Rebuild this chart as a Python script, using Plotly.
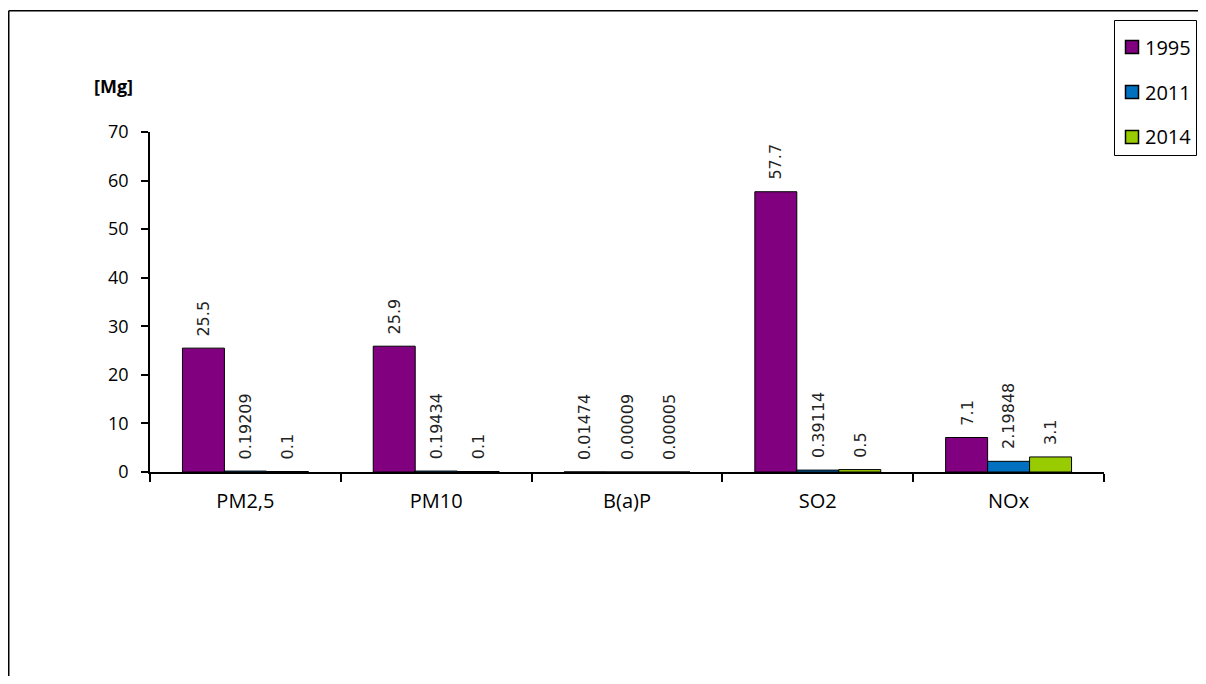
import plotly.graph_objects as go

categories = ["PM2,5", "PM10", "B(a)P", "SO2", "NOx"]
years = ["1995", "2011", "2014"]
values_1995 = [25.5, 25.9, 0.01474, 57.7, 7.1]
values_2011 = [0.19209, 0.19434, 0.00009, 0.39114, 2.19848]
values_2014 = [0.1, 0.1, 0.00005, 0.5, 3.1]
labels_1995 = ["25.5", "25.9", "0.01474", "57.7", "7.1"]
labels_2011 = ["0.19209", "0.19434", "0.00009", "0.39114", "2.19848"]
labels_2014 = ["0.1", "0.1", "0.00005", "0.5", "3.1"]
colors = ["#800080", "#0070C0", "#99CC00"]
y_ticks = [0, 10, 20, 30, 40, 50, 60, 70]

# page body has an 8px margin; work in reference pixel coords shifted by OFF
OFF = 8
W, H = 1206 - 2 * OFF, 684 - 2 * OFF
L = 150 - OFF
T = 132 - OFF
R = W - (1104 - OFF)
B = H - (472 - OFF)
pw, ph = W - L - R, H - T - B
BARGAP = 0.34
bar_w = pw / len(categories) * (1 - BARGAP) / 3


def px(x):
    return (x - OFF - L) / pw


def py(y):
    return (H - B - (y - OFF)) / ph


fig = go.Figure()
annotations = []
shapes = []
series = [values_1995, values_2011, values_2014]
labels = [labels_1995, labels_2011, labels_2014]
for i, (name, vals, labs, col) in enumerate(zip(years, series, labels, colors)):
    fig.add_trace(go.Bar(
        x=categories, y=vals, name=name, showlegend=False,
        marker=dict(color=col, line=dict(color="black", width=1)),
    ))
    for cat, v, lab in zip(categories, vals, labs):
        annotations.append(dict(
            x=cat, y=v, xref="x", yref="y", text=lab, showarrow=False,
            textangle=-90, xanchor="center", yanchor="bottom",
            xshift=(i - 1) * bar_w, yshift=10,
            font=dict(family="DejaVu Sans", size=16, color="#222222"),
        ))

annotations.append(dict(
    text="<b>[Mg]</b>", xref="paper", yref="paper",
    x=px(113), y=py(86), xanchor="center", yanchor="middle",
    showarrow=False, font=dict(family="Open Sans", size=18, color="black"),
))

# legend box drawn by hand (reference pixel layout)
shapes.append(dict(type="rect", xref="paper", yref="paper",
                   x0=px(1114.5), x1=px(1196.5), y0=py(20.5), y1=py(155.5),
                   line=dict(color="black", width=1), fillcolor="white", layer="above"))
for i, (name, col) in enumerate(zip(years, colors)):
    cy = 47 + 45 * i
    shapes.append(dict(type="rect", xref="paper", yref="paper",
                       x0=px(1125.5), x1=px(1138.5), y0=py(cy - 6.5), y1=py(cy + 6.5),
                       line=dict(color="black", width=1.5), fillcolor=col, layer="above"))
    annotations.append(dict(
        text=name, xref="paper", yref="paper", x=px(1143), y=py(cy),
        xanchor="left", yanchor="middle", showarrow=False,
        font=dict(family="Open Sans", size=20, color="black"),
    ))

shapes += [
    dict(type="line", xref="paper", yref="paper",
         x0=px(8.75), x1=px(1300), y0=py(10.75), y1=py(10.75),
         line=dict(color="black", width=1.5)),
    dict(type="line", xref="paper", yref="paper",
         x0=px(8.75), x1=px(8.75), y0=py(10.75), y1=py(800),
         line=dict(color="black", width=1.5)),
]

fig.update_layout(
    width=W, height=H,
    margin=dict(l=L, r=R, t=T, b=B, autoexpand=False),
    paper_bgcolor="white", plot_bgcolor="white",
    barmode="group", bargap=BARGAP, bargroupgap=0,
    font=dict(family="Open Sans", color="black"),
    showlegend=False,
    xaxis=dict(
        showline=True, linecolor="black", linewidth=1.5,
        ticks="outside", tickson="boundaries", ticklen=8, tickcolor="black", tickwidth=1.5,
        tickfont=dict(family="Open Sans", size=20, color="black"),
        ticklabelstandoff=10,
        showgrid=False,
    ),
    yaxis=dict(
        range=[0, 70], tickvals=y_ticks,
        showline=True, linecolor="black", linewidth=1.5,
        ticks="outside", ticklen=7, tickcolor="black", tickwidth=1.5,
        tickfont=dict(family="Open Sans", size=18, color="black"),
        ticklabelstandoff=9,
        showgrid=False, zeroline=False,
    ),
    annotations=annotations,
    shapes=shapes,
)

fig.write_html("out.html")
